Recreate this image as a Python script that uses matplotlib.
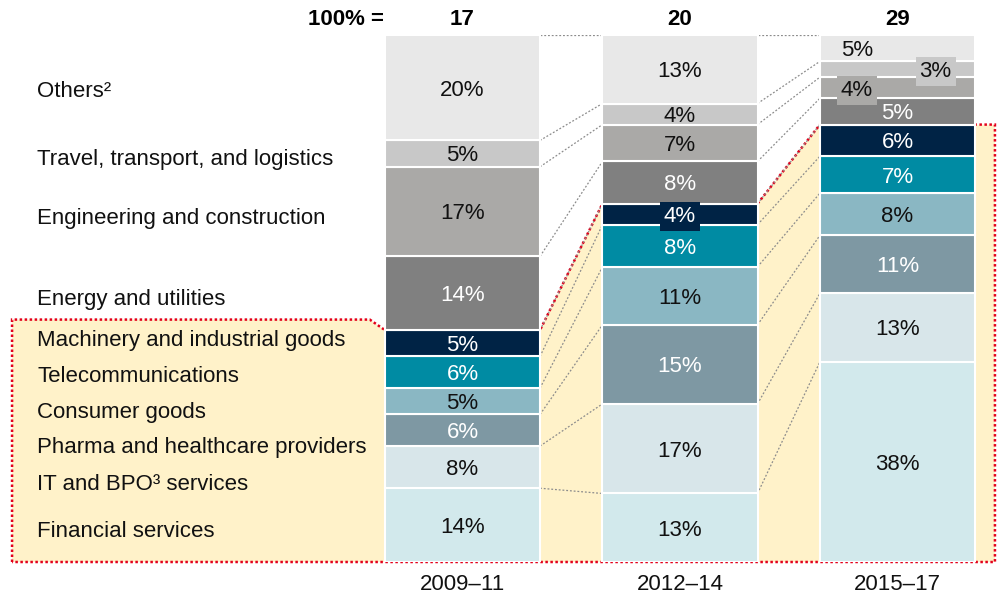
import numpy as np
import matplotlib.pyplot as plt
from matplotlib.patches import Polygon

plt.rcParams['font.family'] = ['Liberation Sans', 'DejaVu Sans']

# data, bottom to top of each bar
periods = ['2009–11', '2012–14', '2015–17']
totals = [17, 20, 29]
sectors = ['Financial services', 'IT and BPO³ services', 'Pharma and healthcare providers',
           'Consumer goods', 'Telecommunications', 'Machinery and industrial goods',
           'Energy and utilities', 'Engineering and construction',
           'Travel, transport, and logistics', 'Others²']
share_2009 = [14, 8, 6, 5, 6, 5, 14, 17, 5, 20]
share_2012 = [13, 17, 15, 11, 8, 4, 8, 7, 4, 13]
share_2015 = [38, 13, 11, 8, 7, 6, 5, 4, 3, 5]

colors = ['#d2e9ec', '#d8e6ea', '#7e98a3', '#8ab7c3', '#008ba3', '#002345',
          '#808080', '#aaa9a7', '#c8c8c8', '#e8e8e8']
text_colors = ['#111111', '#111111', 'white', '#111111', 'white', 'white',
               'white', '#111111', '#111111', '#111111']

shares = np.array([share_2009, share_2012, share_2015], dtype=float)
cum = np.cumsum(shares, axis=1)
bottoms = cum - shares
x = np.arange(len(periods))
w = 0.713
dy = -0.45  # small downward shift so text looks centred

fig = plt.figure(figsize=(9.97, 6), dpi=100)
ax = fig.add_axes([0, 38 / 600, 1, 527 / 600])
ax.set_xlim(-462.5 / 217.5, (997 - 462.5) / 217.5)
ax.set_ylim(0, 100)
ax.axis('off')

# highlighted group (first six sectors)
hi = 5
left, right = -2.071, 2.448
poly = [(left, 0), (left, cum[0, hi] + 2), (-w / 2 - 0.07, cum[0, hi] + 2),
        (-w / 2, cum[0, hi]), (w / 2, cum[0, hi]), (1 - w / 2, cum[1, hi]),
        (1 + w / 2, cum[1, hi]), (2 - w / 2, cum[2, hi]), (right, cum[2, hi]),
        (right, 0)]
ax.add_patch(Polygon(poly, closed=True, facecolor='#fff2c9', edgecolor='#e3001b',
                     linewidth=1.8, linestyle=(0, (1, 1)), zorder=1, clip_on=False))

# connectors between bars
for i in range(len(periods) - 1):
    for k in range(len(sectors)):
        ax.plot([x[i] + w / 2, x[i + 1] - w / 2], [cum[i, k], cum[i + 1, k]],
                color='#8c8c8c', linestyle=(0, (1.5, 1.5)), linewidth=0.9, zorder=2)

for k in range(len(sectors)):
    ax.bar(x, shares[:, k], bottom=bottoms[:, k], width=w, color=colors[k],
           edgecolor='white', linewidth=1.5, zorder=3)

# special label placements: (bar, sector) -> (dx, box colour)
special = {(1, 5): (0, '#002345'), (2, 7): (-0.186, '#aaa9a7'),
           (2, 8): (0.175, '#c8c8c8'), (2, 9): (-0.186, None)}
for i in range(len(periods)):
    for k in range(len(sectors)):
        ddx, box = special.get((i, k), (0, None))
        kw = {}
        if box:
            kw['bbox'] = dict(boxstyle='square,pad=0.18', fc=box, ec='none')
        ax.text(x[i] + ddx, bottoms[i, k] + shares[i, k] / 2 + dy, f'{shares[i, k]:.0f}%',
                ha='center', va='center', fontsize=16, color=text_colors[k],
                zorder=5, **kw)

# sector names on the left
nudge = [-0.7, -2.8, -2.8, -1.7, -0.3, 1.0, -0.7, -0.8, -0.6, -0.3]
for k, name in enumerate(sectors):
    ax.text(-1.956, bottoms[0, k] + shares[0, k] / 2 + nudge[k] + dy, name,
            ha='left', va='center', fontsize=16, color='#111111', zorder=5)

# totals and period labels
ax.text(-w / 2 - 0.003, 103.3 + dy, '100% =', ha='right', va='center', fontsize=16,
        fontweight='bold', clip_on=False)
for i in range(len(periods)):
    ax.text(x[i], 103.3 + dy, str(totals[i]), ha='center', va='center', fontsize=16,
            fontweight='bold', clip_on=False)
    ax.text(x[i], -3.8 + dy, periods[i], ha='center', va='center', fontsize=16,
            color='#111111', clip_on=False)

fig.savefig('out.png', dpi=100)
